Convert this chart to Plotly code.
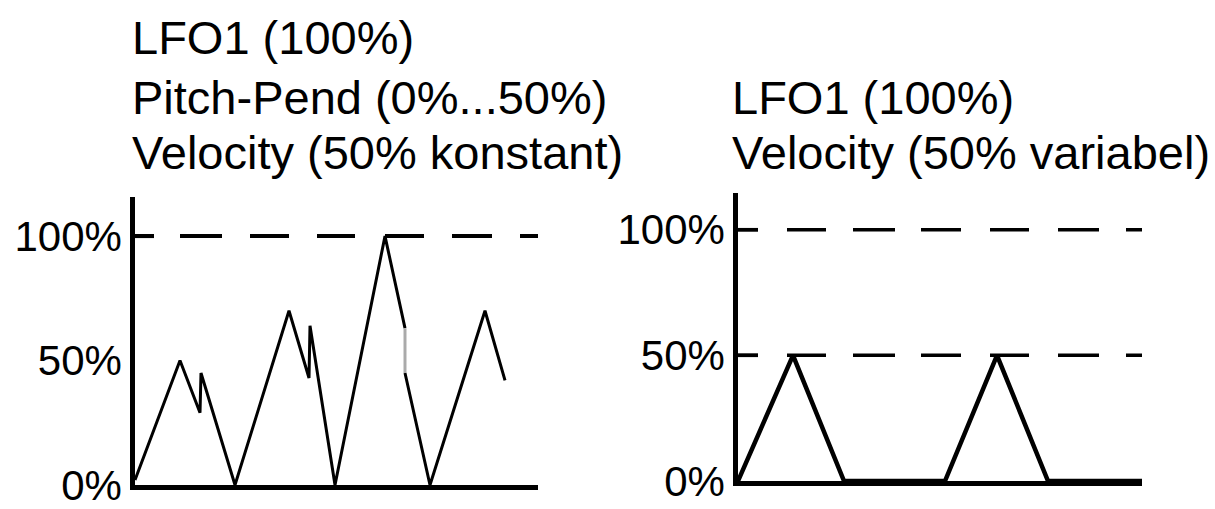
import plotly.graph_objects as go

# ---- data ----
left_t = [0, 4.5, 6.5, 6.6, 10, 15.4, 17.4, 17.5, 20, 25, 27, None, 27, 29.5, 35, 37]
left_v = [2, 50, 29, 45, 0, 70, 43, 64, 0, 100, 63, None, 45, 0, 70, 42]
grey_t = [27, 27]
grey_v = [63, 45]
right_t = [0, 5.5, 10.6, 20.7, 25.9, 31, 40.6]
right_v = [0, 50, 0, 0, 50, 0, 0]
tick_vals = [0, 50, 100]
tick_text = ["0%", "50%", "100%"]
left_title = ["LFO1 (100%)", "Pitch-Pend (0%...50%)", "Velocity (50% konstant)"]
right_title = ["LFO1 (100%)", "Velocity (50% variabel)"]
left_ref = [100]
right_ref = [100, 50]

W = 1215
REF_H = 509
K = 533 / 509          # vertical stretch of the photographed area
H = round(REF_H * K)
FONT = "Liberation Sans, Arial, sans-serif"


def py(v):
    """reference pixel row -> paper fraction"""
    return 1 - (v * K) / H


fig = go.Figure()
fig.add_trace(go.Scatter(x=left_t, y=left_v, mode="lines", connectgaps=False,
                         line=dict(color="black", width=3), xaxis="x", yaxis="y",
                         showlegend=False, hoverinfo="skip"))
fig.add_trace(go.Scatter(x=grey_t, y=grey_v, mode="lines",
                         line=dict(color="#aaaaaa", width=3), xaxis="x", yaxis="y",
                         showlegend=False, hoverinfo="skip"))
fig.add_trace(go.Scatter(x=right_t, y=right_v, mode="lines",
                         line=dict(color="black", width=4.5), xaxis="x2", yaxis="y2",
                         showlegend=False, hoverinfo="skip"))

# short tick-dash where each reference line meets its axis
for v in left_ref:
    fig.add_trace(go.Scatter(x=[0, 1.9], y=[v, v], mode="lines",
                             line=dict(color="black", width=4), xaxis="x", yaxis="y",
                             showlegend=False, hoverinfo="skip"))
for v in right_ref:
    fig.add_trace(go.Scatter(x=[0, 2.0], y=[v, v], mode="lines",
                             line=dict(color="black", width=3.5), xaxis="x2", yaxis="y2",
                             showlegend=False, hoverinfo="skip"))

shapes = []
for v in left_ref:
    shapes.append(dict(type="line", xref="x", yref="y", x0=0, x1=40.7, y0=v, y1=v,
                       line=dict(color="black", width=4,
                                 dash="19px,26px,42px,28px,39px,28px,38px,30px,39px,28px,40px,28px,22px,100px")))
for v in right_ref:
    shapes.append(dict(type="line", xref="x2", yref="y2", x0=0, x1=40.6, y0=v, y1=v,
                       line=dict(color="black", width=3.5,
                                 dash="20px,29px,39px,27px,42px,26px,40px,29px,39px,29px,41px,27px,22px,100px")))

annotations = []
left_y = [38, 97, 152]
for txt, yy in zip(left_title, left_y):
    annotations.append(dict(text=txt, xref="paper", yref="paper", x=130 / W, y=py(yy),
                            xanchor="left", yanchor="middle", showarrow=False,
                            font=dict(family=FONT, size=47, color="black")))
right_y = [97, 152]
for txt, yy in zip(right_title, right_y):
    annotations.append(dict(text=txt, xref="paper", yref="paper", x=730 / W, y=py(yy),
                            xanchor="left", yanchor="middle", showarrow=False,
                            font=dict(family=FONT, size=47, color="black")))

axis_common = dict(showgrid=False, zeroline=False, showline=True, linecolor="black",
                   linewidth=4.5, ticks="", fixedrange=True)

fig.update_layout(
    width=W, height=H,
    margin=dict(l=0, r=0, t=0, b=0),
    paper_bgcolor="white", plot_bgcolor="white",
    shapes=shapes, annotations=annotations,
    xaxis=dict(domain=[135 / W, 538 / W], range=[0, 40.3], showticklabels=False,
               anchor="y", **axis_common),
    yaxis=dict(domain=[py(485), py(197)], range=[0, 115.7], anchor="x",
               tickvals=tick_vals, ticktext=tick_text,
               tickfont=dict(family=FONT, size=42, color="black"), **axis_common),
    xaxis2=dict(domain=[738 / W, 1142 / W], range=[0, 40.4], showticklabels=False,
                anchor="y2", **axis_common),
    yaxis2=dict(domain=[py(481), py(193)], range=[0, 114.6], anchor="x2",
                tickvals=tick_vals, ticktext=tick_text,
                tickfont=dict(family=FONT, size=42, color="black"), **axis_common),
)

fig.write_html("out.html", post_script="document.body.style.margin='0';",
               config={"displayModeBar": False})
